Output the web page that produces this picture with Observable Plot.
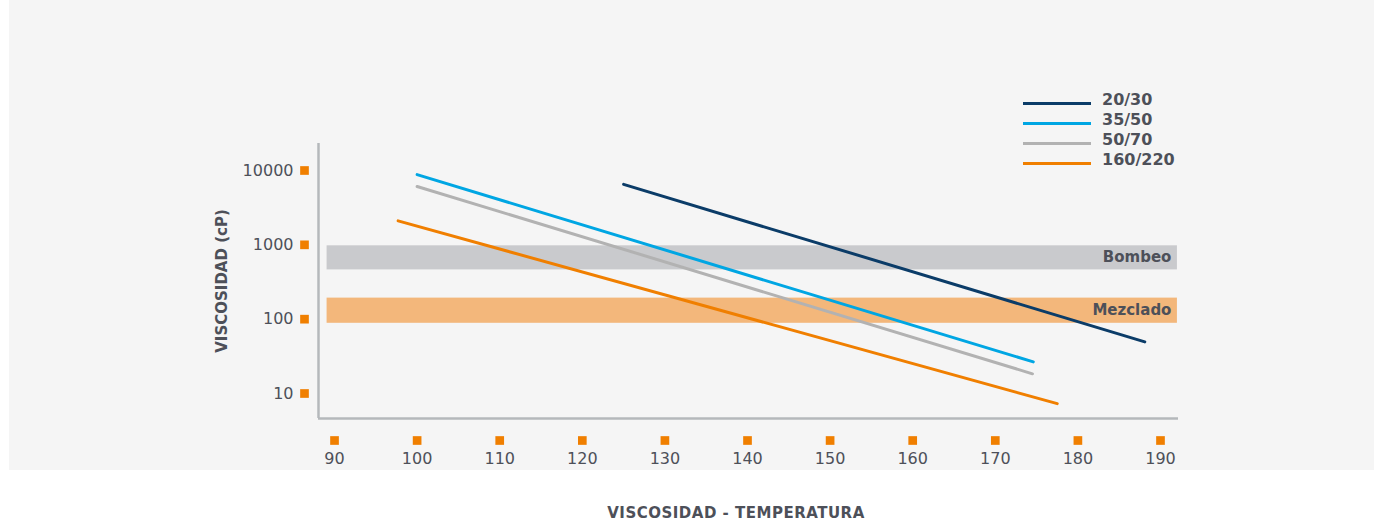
<!DOCTYPE html>
<html>
<head>
<meta charset="utf-8">
<script src="https://cdn.jsdelivr.net/npm/d3@7"></script>
<script src="https://cdn.jsdelivr.net/npm/@observablehq/plot@0.6"></script>
<style>
  html, body { margin: 0; padding: 0; background: #ffffff; }
  body { width: 1374px; height: 522px; position: relative; overflow: hidden; font-family: "DejaVu Sans", sans-serif; }
  #panel { position: absolute; left: 9px; top: 0; width: 1365px; height: 470px; background: #f5f5f5; }
  #chart { position: absolute; left: 0; top: 0; }
  #legend { position: absolute; left: 1023px; top: 92px; }
  .item { position: absolute; left: 0; height: 20px; white-space: nowrap; }
  .item .sw { position: absolute; left: 0; width: 68px; height: 3px; }
  .item .lb { position: absolute; left: 79px; top: 0; font-weight: bold; font-size: 16px; color: #4d5059; line-height: 16px; }
  #caption { position: absolute; left: 0; width: 1472px; top: 506px; height: 15px; text-align: center; font-weight: bold; font-size: 15px; letter-spacing: 0.5px; color: #4d5059; line-height: 15px; }
</style>
</head>
<body>
<div id="panel"></div>
<div id="chart"></div>
<div id="legend"></div>
<div id="caption">VISCOSIDAD - TEMPERATURA</div>
<script>
// ---- data ----
const seriesNames = ["20/30", "35/50", "50/70", "160/220"];
const seriesColors = ["#0b3c68", "#00a6e3", "#b2b2b2", "#f07f00"];
const tempStart = [125, 100, 100, 97.7];
const viscStart = [6500, 8800, 6100, 2100];
const tempEnd = [188.1, 174.6, 174.5, 177.5];
const viscEnd = [49.5, 26.6, 18.4, 7.3];

const bandNames = ["Bombeo", "Mezclado"];
const bandLow = [460, 88];
const bandHigh = [970, 192];
const bandColors = ["#c9cacd", "#f3b77b"];
const bandTempFrom = 89.1;
const bandTempTo = 192.05;

const xTicks = [90, 100, 110, 120, 130, 140, 150, 160, 170, 180, 190];
const yTicks = [10, 100, 1000, 10000];
const xDomain = [88.06, 192.18];
const yDomain = [4.61, 23080];
const yLabel = "VISCOSIDAD (cP)";

// ---- build tables ----
const lines = [];
seriesNames.forEach((s, i) => {
  lines.push({serie: s, t: tempStart[i], v: viscStart[i]});
  lines.push({serie: s, t: tempEnd[i], v: viscEnd[i]});
});
const bands = bandNames.map((n, i) => ({name: n, lo: bandLow[i], hi: bandHigh[i], color: bandColors[i]}));

const textColor = "#4d5059";
const orange = "#f07f00";

const chart = Plot.plot({
  width: 1374,
  height: 470,
  marginLeft: 318,
  marginRight: 196,
  marginTop: 143,
  marginBottom: 52,
  style: {background: "transparent", fontFamily: "DejaVu Sans, sans-serif"},
  x: {domain: xDomain},
  y: {type: "log", domain: yDomain},
  color: {domain: seriesNames, range: seriesColors},
  marks: [
    Plot.rect(bands, {x1: bandTempFrom, x2: bandTempTo, y1: "lo", y2: "hi", fill: "color"}),
    Plot.text(bands, {x: bandTempTo, y: d => Math.sqrt(d.lo * d.hi), text: "name", textAnchor: "end", dx: -6, dy: -1, fontWeight: "bold", fontSize: 15, fill: textColor}),
    Plot.line(lines, {x: "t", y: "v", z: "serie", stroke: "serie", strokeWidth: 3}),
    Plot.ruleX([xDomain[0]], {y1: yDomain[0], y2: yDomain[1], stroke: "#b5b8bb", strokeWidth: 2.5}),
    Plot.ruleY([yDomain[0]], {x1: xDomain[0], x2: xDomain[1], stroke: "#b5b8bb", strokeWidth: 2.5}),
    Plot.dot(xTicks, {x: d => d, frameAnchor: "bottom", dy: 22, symbol: "square", r: 4.9, fill: orange}),
    Plot.dot(yTicks, {y: d => d, frameAnchor: "left", dx: -14, symbol: "square", r: 4.9, fill: orange}),
    Plot.axisX(xTicks, {tickSize: 0, tickPadding: 34, fontSize: 16, fill: textColor, label: null, tickFormat: d => String(d)}),
    Plot.axisY(yTicks, {tickSize: 0, tickPadding: 25, fontSize: 16, fill: textColor, label: null, tickFormat: d => String(d)}),
    Plot.text([yLabel], {frameAnchor: "left", textAnchor: "middle", rotate: -90, dx: -96, text: d => d, fontWeight: "bold", fontSize: 15, fill: textColor})
  ]
});
document.getElementById("chart").appendChild(chart);

// ---- legend ----
const legend = document.getElementById("legend");
seriesNames.forEach((s, i) => {
  const it = document.createElement("div");
  it.className = "item";
  it.style.top = (i * 20) + "px";
  it.innerHTML = `<div class="sw" style="top:${9.5}px;background:${seriesColors[i]}"></div><div class="lb">${s}</div>`;
  legend.appendChild(it);
});
</script>
</body>
</html>
